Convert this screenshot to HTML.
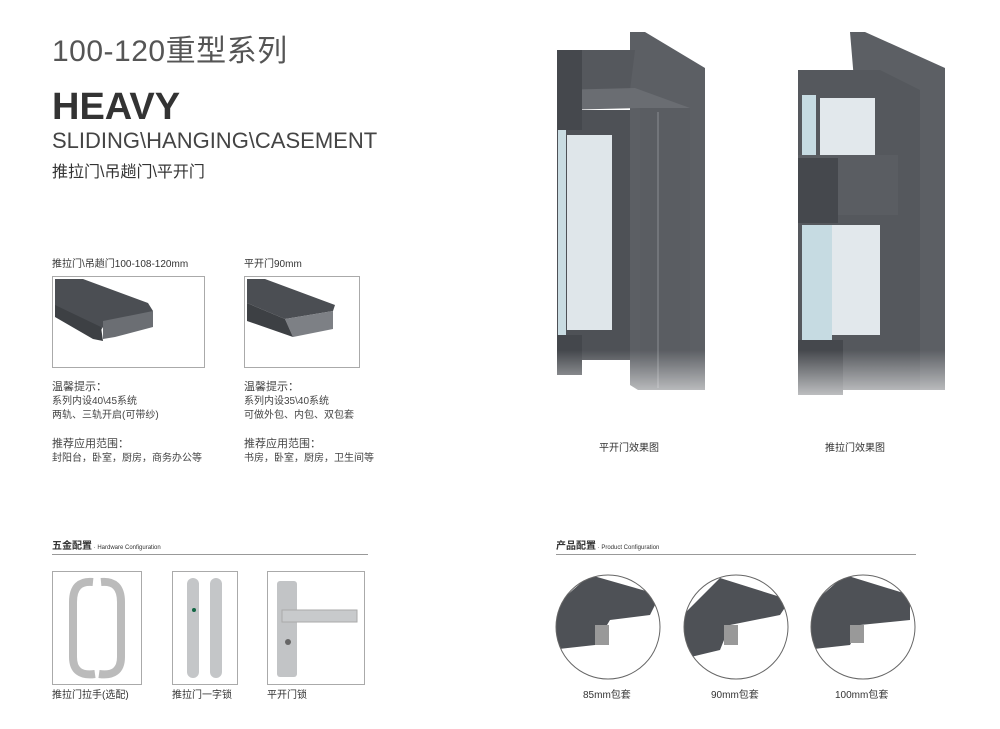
<!DOCTYPE html>
<html><head><meta charset="utf-8"><style>
body{margin:0;width:1000px;height:729px;background:#fff;position:relative;overflow:hidden;font-family:"Liberation Sans","Noto Sans CJK SC",sans-serif;color:#333}
.a{position:absolute;white-space:nowrap}
.s{font-size:10px;color:#444;line-height:14px}
.box{position:absolute;border:1px solid #aaa;background:#fff}
</style></head><body>
<div class="a" style="left:52px;top:26px;font-size:30px;color:#555;letter-spacing:0.5px">100-120重型系列</div>
<div class="a" style="left:52px;top:86px;font-size:38px;font-weight:bold;color:#333">HEAVY</div>
<div class="a" style="left:52px;top:128px;font-size:22px;color:#444">SLIDING\HANGING\CASEMENT</div>
<div class="a" style="left:52px;top:158px;font-size:16px;color:#333">推拉门\吊趟门\平开门</div>

<div class="a" style="left:52px;top:255px;font-size:10px;color:#333">推拉门\吊趟门100-108-120mm</div>
<div class="a" style="left:244px;top:255px;font-size:10px;color:#333">平开门90mm</div>
<div class="box" style="left:52px;top:276px;width:151px;height:90px">
<svg width="151" height="90"><polygon points="2,2 30,2 95,26 100,34 90,42 50,50 45,58 2,30" fill="#4b4e53"/><polygon points="50,44 100,34 100,50 62,60 50,62" fill="#6b6e73"/><polygon points="2,28 48,50 50,64 40,62 2,40" fill="#3d4044"/></svg></div>
<div class="box" style="left:244px;top:276px;width:114px;height:90px">
<svg width="114" height="90"><polygon points="2,2 20,2 90,28 88,34 40,42 2,26" fill="#4b4e53"/><polygon points="40,42 88,34 88,52 48,60" fill="#7d8085"/><polygon points="2,26 40,42 48,60 2,44" fill="#3d4044"/></svg></div>

<div class="a s" style="left:52px;top:380px"><span style="font-size:11px">温馨提示：</span><br>系列内设40\45系统<br>两轨、三轨开启(可带纱)<br><br><span style="font-size:11px">推荐应用范围：</span><br>封阳台，卧室，厨房，商务办公等</div>
<div class="a s" style="left:244px;top:380px"><span style="font-size:11px">温馨提示：</span><br>系列内设35\40系统<br>可做外包、内包、双包套<br><br><span style="font-size:11px">推荐应用范围：</span><br>书房，卧室，厨房，卫生间等</div>

<svg class="a" style="left:540px;top:20px" width="420" height="400">
<defs><linearGradient id="fl" x1="0" y1="0" x2="0" y2="1"><stop offset="0" stop-color="#fff" stop-opacity="0"/><stop offset="1" stop-color="#fff"/></linearGradient></defs>
<!-- left door -->
<polygon points="90,12 105,12 165,48 165,370 98,370 90,365" fill="#5c5f64"/>
<polygon points="17,30 95,30 90,70 17,75" fill="#55585d"/>
<polygon points="17,70 95,68 150,88 100,88 17,90" fill="#6a6d72"/>
<polygon points="100,88 150,88 150,370 100,370" fill="#5a5d62"/>
<line x1="118" y1="92" x2="118" y2="368" stroke="#8a8d92" stroke-width="1"/>
<polygon points="17,90 90,90 90,340 17,340" fill="#4e5156"/>
<rect x="27" y="115" width="45" height="195" fill="#dfe6ea"/>
<rect x="18" y="110" width="8" height="205" fill="#c9dce2"/>
<rect x="17" y="315" width="25" height="40" fill="#44474c"/>
<rect x="17" y="30" width="25" height="80" fill="#45484d"/>
<!-- right door -->
<polygon points="310,12 325,12 405,48 405,370 340,370" fill="#5c5f64"/>
<polygon points="258,50 340,50 380,70 380,370 258,370" fill="#55585d"/>
<rect x="280" y="78" width="55" height="60" fill="#e2e8ec"/>
<rect x="258" y="135" width="100" height="60" fill="#5a5d62"/>
<rect x="275" y="205" width="65" height="110" fill="#e2e8ec"/>
<rect x="262" y="75" width="14" height="60" fill="#c6dbe2"/>
<rect x="262" y="205" width="30" height="115" fill="#c6dbe2"/>
<rect x="258" y="138" width="40" height="65" fill="#45484d"/>
<rect x="258" y="320" width="45" height="55" fill="#45484d"/>
<rect x="0" y="330" width="420" height="70" fill="url(#fl)"/>
</svg>
<div class="a" style="left:599px;top:439px;font-size:10px;color:#333">平开门效果图</div>
<div class="a" style="left:825px;top:439px;font-size:10px;color:#333">推拉门效果图</div>

<div class="a" style="left:52px;top:537px;font-size:10px;font-weight:bold;color:#333">五金配置<span style="font-weight:normal;font-size:6px"> · Hardware Configuration</span></div>
<div class="a" style="left:52px;top:554px;width:316px;height:1px;background:#999"></div>
<div class="box" style="left:52px;top:571px;width:88px;height:112px"><svg width="88" height="112"><path d="M40,10 Q20,8 20,30 L20,85 Q20,105 42,102" fill="none" stroke="#bbb" stroke-width="8"/><path d="M48,10 Q68,8 68,30 L68,85 Q68,105 46,102" fill="none" stroke="#bbb" stroke-width="8"/></svg></div>
<div class="box" style="left:172px;top:571px;width:64px;height:112px"><svg width="64" height="112"><rect x="14" y="6" width="12" height="100" rx="6" fill="#c4c6c8"/><rect x="37" y="6" width="12" height="100" rx="6" fill="#c4c6c8"/><circle cx="21" cy="38" r="2" fill="#164"/></svg></div>
<div class="box" style="left:267px;top:571px;width:96px;height:112px"><svg width="96" height="112"><rect x="9" y="9" width="20" height="96" rx="3" fill="#c2c4c6"/><rect x="14" y="38" width="75" height="12" fill="#c8cacc" stroke="#aaa"/><circle cx="20" cy="70" r="3" fill="#666"/></svg></div>
<div class="a" style="left:52px;top:686px;font-size:10px">推拉门拉手(选配)</div>
<div class="a" style="left:172px;top:686px;font-size:10px">推拉门一字锁</div>
<div class="a" style="left:267px;top:686px;font-size:10px">平开门锁</div>

<div class="a" style="left:556px;top:537px;font-size:10px;font-weight:bold;color:#333">产品配置<span style="font-weight:normal;font-size:6px"> · Product Configuration</span></div>
<div class="a" style="left:556px;top:554px;width:360px;height:1px;background:#999"></div>
<svg class="a" style="left:550px;top:570px" width="370" height="115">
<defs><clipPath id="c1"><circle cx="58" cy="57" r="52"/></clipPath><clipPath id="c2"><circle cx="186" cy="57" r="52"/></clipPath><clipPath id="c3"><circle cx="313" cy="57" r="52"/></clipPath></defs>
<g clip-path="url(#c1)"><polygon points="0,40 40,5 110,25 100,45 60,50 45,75 0,80" fill="#4e5156"/><rect x="45" y="55" width="14" height="20" fill="#999"/></g>
<g clip-path="url(#c2)"><polygon points="128,50 170,8 240,30 230,45 180,55 170,80 128,90" fill="#4e5156"/><rect x="174" y="55" width="14" height="20" fill="#999"/></g>
<g clip-path="url(#c3)"><polygon points="255,40 295,5 360,25 360,50 310,55 300,75 255,80" fill="#4e5156"/><rect x="300" y="55" width="14" height="18" fill="#999"/></g>
<circle cx="58" cy="57" r="52" fill="none" stroke="#666"/><circle cx="186" cy="57" r="52" fill="none" stroke="#666"/><circle cx="313" cy="57" r="52" fill="none" stroke="#666"/>
</svg>
<div class="a" style="left:583px;top:686px;font-size:10px">85mm包套</div>
<div class="a" style="left:711px;top:686px;font-size:10px">90mm包套</div>
<div class="a" style="left:835px;top:686px;font-size:10px">100mm包套</div>
</body></html>
